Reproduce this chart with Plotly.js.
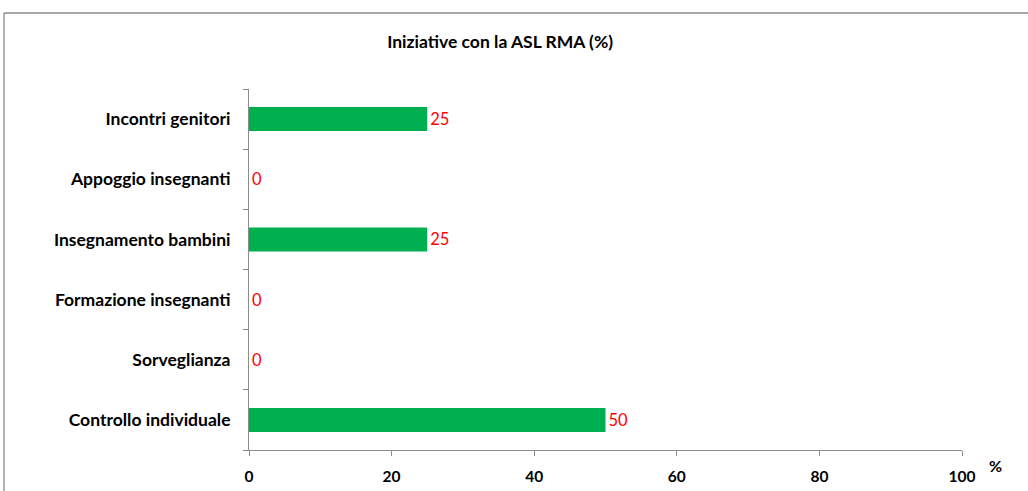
<!DOCTYPE html>
<html>
<head>
<meta charset="utf-8">
<script src="https://cdn.plot.ly/plotly-3.0.1.min.js"></script>
<style>
html,body{margin:0;padding:0;background:#fff;}
#chart{width:1028px;height:491px;}
</style>
</head>
<body>
<div id="chart"></div>
<script>
var categories = ["Controllo individuale", "Sorveglianza", "Formazione insegnanti", "Insegnamento bambini", "Appoggio insegnanti", "Incontri genitori"];
var values = [50, 0, 0, 25, 0, 25];
var xTicks = [0, 20, 40, 60, 80, 100];

var FONT = "Lato, 'Open Sans', sans-serif";

var trace = {
  type: "bar",
  orientation: "h",
  y: categories,
  x: values,
  text: values.map(String),
  textposition: "outside",
  cliponaxis: false,
  textfont: {family: FONT, size: 16.5, color: "#FF0000"},
  marker: {color: "#00B050"},
  hoverinfo: "none"
};

var layout = {
  width: 1028, height: 491,
  margin: {l: 249, r: 66, t: 89, b: 41},
  paper_bgcolor: "#fff", plot_bgcolor: "#fff",
  showlegend: false,
  bargap: 0.6,
  title: {text: "<b>Iniziative con la ASL RMA (%)</b>", x: 0.4865, xanchor: "center", y: 0.915, yanchor: "middle",
          font: {family: FONT, size: 17.5, color: "#000"}},
  xaxis: {
    range: [0, 100], tickvals: xTicks, ticktext: xTicks.map(function(v){return "<b>"+v+"</b>";}),
    showgrid: false, zeroline: false, showline: true, linecolor: "#8c8c8c", linewidth: 1,
    ticks: "outside", ticklen: 5, tickcolor: "#8c8c8c",
    tickfont: {family: FONT, size: 15.5, color: "#000"}, ticklabelstandoff: 7
  },
  yaxis: {
    type: "category", categoryorder: "array", categoryarray: categories,
    tickson: "boundaries", ticks: "outside", ticklen: 5, tickcolor: "#8c8c8c",
    showgrid: false, zeroline: false, showline: true, linecolor: "#8c8c8c", linewidth: 1,
    tickfont: {family: FONT, size: 17.5, color: "#000"},
    ticktext: categories.map(function(c){return "<b>"+c+"</b>";}), tickvals: categories,
    ticklabelstandoff: 14
  },
  annotations: [
    {xref: "paper", yref: "paper", x: 1.0463, y: -0.042, text: "<b>%</b>", showarrow: false,
     xanchor: "center", yanchor: "middle", font: {family: FONT, size: 16, color: "#000"}}
  ],
  shapes: [
    {type: "line", xref: "paper", yref: "paper", x0: -0.3436, x1: -0.3436, y0: -0.2, y1: 1.2105,
     line: {color: "#888", width: 1.3}},
    {type: "line", xref: "paper", yref: "paper", x0: -0.3436, x1: 1.2, y0: 1.2105, y1: 1.2105,
     line: {color: "#888", width: 1.3}}
  ]
};

Plotly.newPlot("chart", [trace], layout, {displayModeBar: false, staticPlot: true});
</script>
</body>
</html>
